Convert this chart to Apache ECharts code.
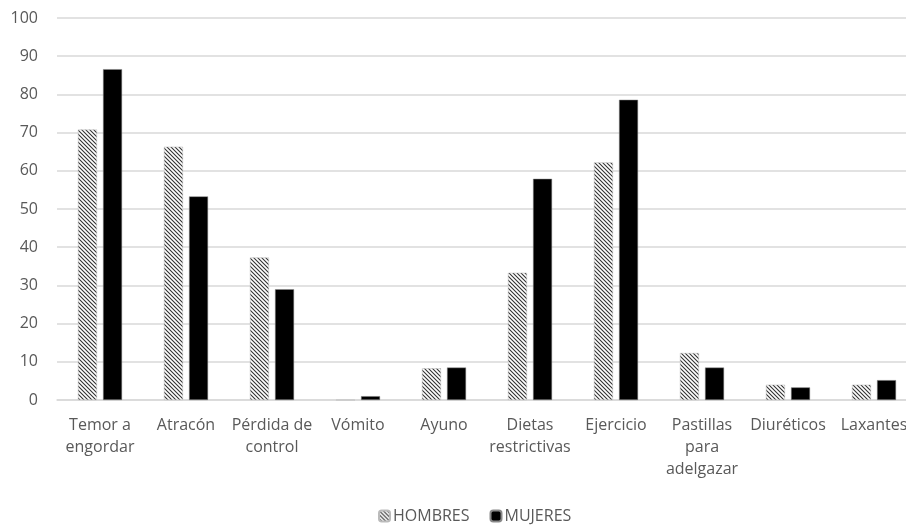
<!DOCTYPE html>
<html>
<head>
<meta charset="utf-8">
<script src="https://cdn.jsdelivr.net/npm/echarts@6/dist/echarts.min.js"></script>
<style>html,body{margin:0;padding:0;background:#fff}#c{width:906px;height:525px}</style>
</head>
<body>
<div id="c"></div>
<script>
const categories = ['Temor a\nengordar', 'Atracón', 'Pérdida de\ncontrol', 'Vómito', 'Ayuno', 'Dietas\nrestrictivas', 'Ejercicio', 'Pastillas\npara\nadelgazar', 'Diuréticos', 'Laxantes'];
const hombres = [70.8, 66.3, 37.3, 0, 8.3, 33.3, 62.2, 12.3, 4.0, 4.0];
const mujeres = [86.6, 53.3, 29.0, 1.0, 8.5, 57.9, 78.6, 8.5, 3.3, 5.2];
const seriesNames = ['HOMBRES', 'MUJERES'];

function hatch() {
  const s = 4;
  const cv = document.createElement('canvas');
  cv.width = s; cv.height = s;
  const ctx = cv.getContext('2d');
  ctx.fillStyle = '#ffffff';
  ctx.fillRect(0, 0, s, s);
  ctx.strokeStyle = '#333';
  ctx.lineWidth = 1.1;
  ctx.beginPath();
  ctx.moveTo(-1, -1); ctx.lineTo(s + 1, s + 1);
  ctx.moveTo(-1, s - 1); ctx.lineTo(1, s + 1);
  ctx.moveTo(s - 1, -1); ctx.lineTo(s + 1, 1);
  ctx.stroke();
  return cv;
}

const chart = echarts.init(document.getElementById('c'));
const font = '"Open Sans", "Noto Sans", sans-serif';
chart.setOption({
  animation: false,
  textStyle: { fontFamily: font },
  grid: { left: 57, width: 860, top: 18, bottom: 125, containLabel: false, outerBoundsMode: 'none' },
  legend: {
    top: 503, left: 373,
    itemWidth: 11, itemHeight: 11, itemGap: 20,
    textStyle: { color: '#595959', fontSize: 16, fontFamily: font, padding: [0, 0, 0, -2] },
    data: seriesNames
  },
  xAxis: {
    type: 'category',
    data: categories,
    axisLine: { lineStyle: { color: '#d9d9d9', width: 1.5 } },
    axisTick: { show: false },
    axisLabel: { color: '#595959', fontSize: 16, lineHeight: 22, margin: 14, interval: 0, fontFamily: font }
  },
  yAxis: {
    type: 'value', min: 0, max: 100, interval: 10,
    axisLine: { show: false }, axisTick: { show: false },
    splitLine: { lineStyle: { color: '#d9d9d9', width: 1.5 } },
    axisLabel: { color: '#595959', fontSize: 16, margin: 19, fontFamily: font }
  },
  series: [
    { name: seriesNames[0], type: 'bar', data: hombres, barWidth: 19, barGap: '32%',
      itemStyle: { color: { image: hatch(), repeat: 'repeat' }, borderColor: '#bbb', borderWidth: 0.5 } },
    { name: seriesNames[1], type: 'bar', data: mujeres, barWidth: 19,
      itemStyle: { color: '#000', borderColor: '#888', borderWidth: 0.5 } }
  ]
});
</script>
</body>
</html>
